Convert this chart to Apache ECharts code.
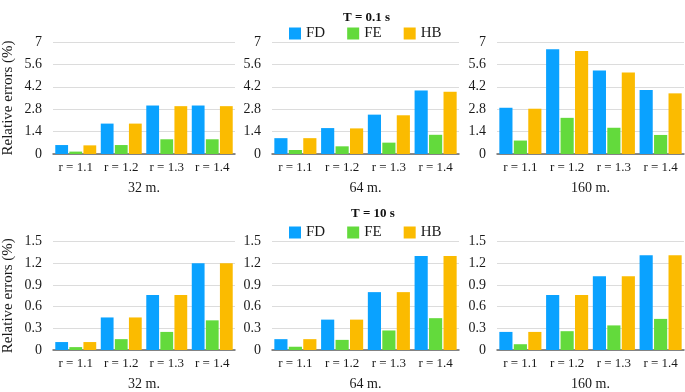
<!DOCTYPE html>
<html>
<head>
<meta charset="utf-8">
<script src="https://cdn.jsdelivr.net/npm/echarts@6/dist/echarts.min.js"></script>
<style>
  html, body { margin: 0; padding: 0; background: #fff; }
  #chart { width: 685px; height: 392px; }
</style>
</head>
<body>
<div id="chart"></div>
<script>
// categories and panel labels
const categories = ['r = 1.1', 'r = 1.2', 'r = 1.3', 'r = 1.4'];
const panelNames = ['32 m.', '64 m.', '160 m.'];
const methods = ['FD', 'FE', 'HB'];

// T = 0.1 s (top row), one array per method, per panel
const fdT01 = [[0.56, 1.90, 3.03, 3.03], [0.99, 1.62, 2.46, 3.97], [2.89, 6.54, 5.22, 4.00]];
const feT01 = [[0.15, 0.56, 0.92, 0.92], [0.25, 0.48, 0.71, 1.20], [0.84, 2.26, 1.64, 1.19]];
const hbT01 = [[0.54, 1.90, 2.99, 2.99], [0.99, 1.60, 2.42, 3.89], [2.83, 6.44, 5.09, 3.79]];

// T = 10 s (bottom row)
const fdT10 = [[0.11, 0.45, 0.76, 1.20], [0.15, 0.42, 0.80, 1.30], [0.25, 0.76, 1.02, 1.31]];
const feT10 = [[0.04, 0.15, 0.25, 0.41], [0.045, 0.14, 0.27, 0.44], [0.08, 0.26, 0.34, 0.43]];
const hbT10 = [[0.11, 0.45, 0.76, 1.20], [0.15, 0.42, 0.80, 1.30], [0.25, 0.76, 1.02, 1.31]];

const colors = { FD: '#0aa2ff', FE: '#63da3c', HB: '#fbbb00' };
const font = 'Liberation Serif';

const chart = echarts.init(document.getElementById('chart'));

const lefts = [48, 272, 497];
const tops = [42, 241.5];
const rows = [
  { max: 7, interval: 1.4, data: [fdT01, feT01, hbT01] },
  { max: 1.5, interval: 0.3, data: [fdT10, feT10, hbT10] },
];

const grid = [], xAxis = [], yAxis = [], series = [];
rows.forEach((row, r) => {
  lefts.forEach((left, p) => {
    const idx = r * 3 + p;
    grid.push({ left, top: tops[r], width: 187, height: 112 });
    xAxis.push({
      type: 'category', gridIndex: idx, data: categories,
      name: panelNames[p], nameLocation: 'middle', nameGap: 27,
      nameTextStyle: { fontFamily: font, fontSize: 14, color: '#1a1a1a' },
      axisLine: { lineStyle: { color: '#666', width: 1.5 } },
      axisTick: { show: false },
      axisLabel: { fontFamily: font, fontSize: 13, color: '#1a1a1a', margin: 7 },
    });
    yAxis.push({
      type: 'value', gridIndex: idx, min: 0, max: row.max, interval: row.interval,
      name: p === 0 ? 'Relative errors (%)' : '',
      nameLocation: 'middle', nameGap: 37,
      nameTextStyle: { fontFamily: font, fontSize: 15, color: '#1a1a1a' },
      axisLine: { show: false }, axisTick: { show: false },
      axisLabel: { fontFamily: font, fontSize: 14, color: '#1a1a1a', margin: 11 },
      splitLine: { lineStyle: { color: '#dcdcdc', width: 1 } },
    });
    methods.forEach((m, k) => {
      series.push({
        name: m, type: 'bar', xAxisIndex: idx, yAxisIndex: idx,
        data: row.data[k][p],
        barCategoryGap: '10%', barGap: '10%',
        itemStyle: { color: colors[m] },
      });
    });
  });
});

chart.setOption({
  animation: false,
  title: [
    { text: 'T = 0.1 s', left: 338, top: 6, textStyle: { fontFamily: font, fontSize: 13, fontWeight: 'bold', color: '#111' } },
    { text: 'T = 10 s', left: 346, top: 202, textStyle: { fontFamily: font, fontSize: 13, fontWeight: 'bold', color: '#111' } },
  ],
  legend: [
    { data: methods, left: 284, top: 21, itemWidth: 12, itemHeight: 12, itemGap: 22, icon: 'rect',
      textStyle: { fontFamily: font, fontSize: 15, color: '#1a1a1a' } },
    { data: methods, left: 284, top: 220, itemWidth: 12, itemHeight: 12, itemGap: 22, icon: 'rect',
      textStyle: { fontFamily: font, fontSize: 15, color: '#1a1a1a' } },
  ],
  grid, xAxis, yAxis, series,
});
</script>
</body>
</html>
